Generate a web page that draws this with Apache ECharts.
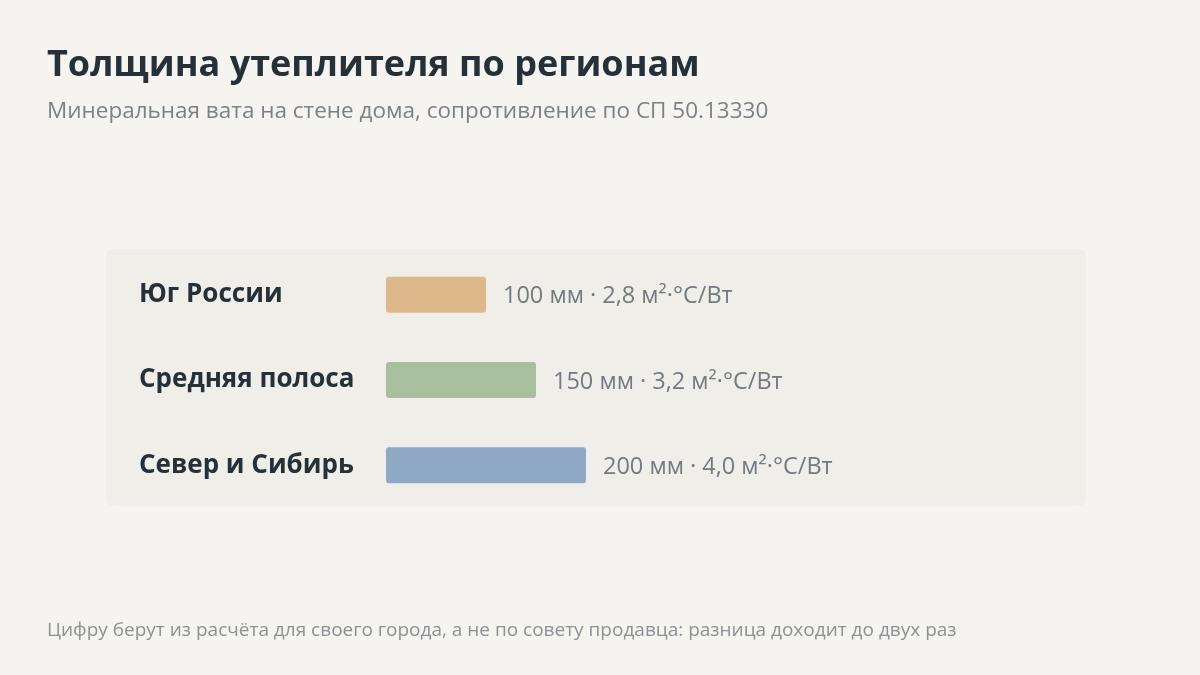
<!DOCTYPE html>
<html><head><meta charset="utf-8">
<script src="https://cdn.jsdelivr.net/npm/echarts@6/dist/echarts.min.js"></script>
<style>html,body{margin:0;padding:0;background:#f5f4f0}#c{width:1200px;height:675px}</style>
</head><body><div id="c"></div>
<script>
const categories = ['Юг России', 'Средняя полоса', 'Север и Сибирь'];
const thicknessMm = [100, 150, 200];
const resistance = ['2,8', '3,2', '4,0'];
const barColors = ['#dcb88b', '#a9bfa0', '#8ea8c5'];

const FONT = '"Open Sans", "Noto Sans", sans-serif';
const chart = echarts.init(document.getElementById('c'));
chart.setOption({
  backgroundColor: '#f5f4f0',
  animation: false,
  title: [
    { text: 'Толщина утеплителя по регионам', left: 42, top: 43, padding: 5,
      textStyle: { fontFamily: FONT, fontSize: 36, fontWeight: 'bold', color: '#263038' } },
    { text: 'Минеральная вата на стене дома, сопротивление по СП 50.13330', left: 42, top: 95,
      textStyle: { fontFamily: FONT, fontSize: 22.5, fontWeight: 'normal', color: '#7b8186' } },
    { text: 'Цифру берут из расчёта для своего города, а не по совету продавца: разница доходит до двух раз', left: 42, top: 616,
      textStyle: { fontFamily: FONT, fontSize: 19, fontWeight: 'normal', color: '#8c9196' } }
  ],
  graphic: [{
    type: 'rect', left: 106, top: 249, z: -1,
    shape: { width: 980, height: 257, r: 8 },
    style: { fill: '#efeee9' }
  }],
  grid: { left: 386, width: 700, top: 252, height: 256 },
  xAxis: { type: 'value', min: 0, max: 700, show: false },
  yAxis: {
    type: 'category', data: categories, inverse: true,
    axisLine: { show: false }, axisTick: { show: false },
    axisLabel: { align: 'left', margin: 247, fontFamily: FONT, fontSize: 26, fontWeight: 'bold', color: '#263038' }
  },
  series: [{
    type: 'bar', barWidth: 36,
    data: thicknessMm.map((v, i) => ({ value: v, itemStyle: { color: barColors[i], borderRadius: 3 } })),
    label: {
      show: true, position: 'right', distance: 17, offset: [0, 2],
      fontFamily: FONT, fontSize: 23.5, color: '#737a80',
      formatter: p => p.value + ' мм · ' + resistance[p.dataIndex] + ' м²·°C/Вт'
    }
  }]
});
</script></body></html>
